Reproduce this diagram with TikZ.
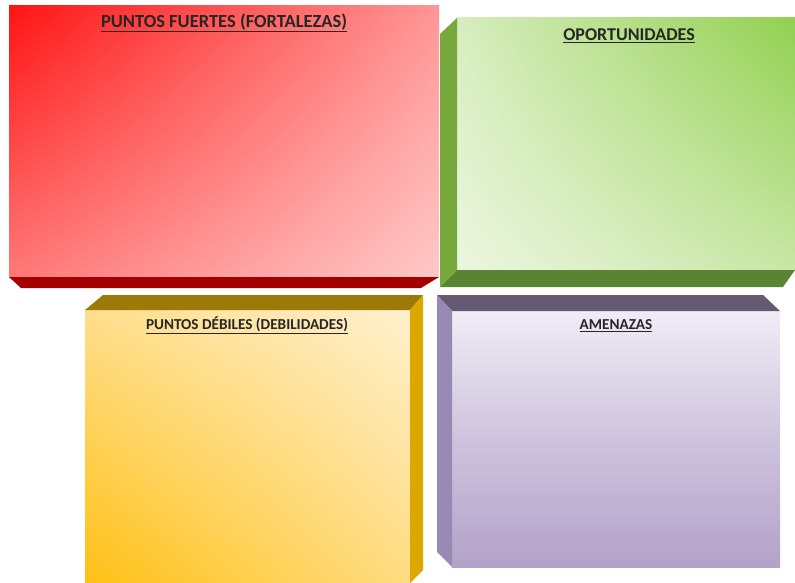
\documentclass[tikz,border=0pt]{standalone}
\usepackage{fontspec}
\setmainfont{Carlito}
\usetikzlibrary{shadings}
\begin{document}
\begin{tikzpicture}[x=1pt,y=-1pt,
  title/.style={font=\bfseries, text=black!85, inner sep=0pt, anchor=center}]
\useasboundingbox (0,0) rectangle (795,583);
\fill[white] (0,0) rectangle (795,583);
% colours
\definecolor{rA}{RGB}{255,20,20}
\definecolor{rB}{RGB}{255,150,150}
\definecolor{rC}{RGB}{255,120,120}
\definecolor{rD}{RGB}{255,200,200}
\definecolor{rBev}{RGB}{165,0,0}
\definecolor{gA}{RGB}{215,237,190}
\definecolor{gB}{RGB}{146,208,80}
\definecolor{gC}{RGB}{236,246,224}
\definecolor{gD}{RGB}{200,230,165}
\definecolor{gBevL}{RGB}{118,168,60}
\definecolor{gBevB}{RGB}{90,132,52}
\definecolor{yA}{RGB}{255,222,140}
\definecolor{yB}{RGB}{255,240,205}
\definecolor{yC}{RGB}{255,192,20}
\definecolor{yD}{RGB}{255,220,130}
\definecolor{yBevT}{RGB}{155,122,10}
\definecolor{yBevR}{RGB}{220,168,0}
\definecolor{pA}{RGB}{240,236,246}
\definecolor{pC}{RGB}{178,162,200}
\definecolor{pBevT}{RGB}{100,90,115}
\definecolor{pBevL}{RGB}{152,137,180}
% red box
\shade[upper left=rA, upper right=rB, lower left=rC, lower right=rD] (9,6) rectangle (439,277);
\fill[rBev] (9,277) -- (439,277) -- (421,288) -- (21,288) -- cycle;
\node[title, font=\bfseries\fontsize{18.5}{21}\selectfont] (t1) at (224,23) {\underline{PUNTOS FUERTES (FORTALEZAS)}};
% green box
\shade[upper left=gA, upper right=gB, lower left=gC, lower right=gD] (457,18) rectangle (795,270);
\fill[gBevL] (457,18) -- (440,34) -- (440,287) -- (457,270) -- cycle;
\fill[gBevB] (457,270) -- (795,270) -- (783,287) -- (440,287) -- cycle;
\node[title, font=\bfseries\fontsize{18}{21}\selectfont] (t2) at (629,36) {\underline{OPORTUNIDADES}};
% yellow box
\shade[upper left=yA, upper right=yB, lower left=yC, lower right=yD] (85,310) rectangle (410,583);
\fill[yBevT] (85,310) -- (103,295) -- (423,295) -- (410,310) -- cycle;
\fill[yBevR] (410,310) -- (423,295) -- (423,570) -- (410,583) -- cycle;
\node[title, font=\bfseries\fontsize{15.2}{18}\selectfont] (t3) at (247,325) {\underline{PUNTOS DÉBILES (DEBILIDADES)}};
% purple box
\shade[top color=pA, bottom color=pC, middle color=pA!45!pC] (452,311) rectangle (780,567);
\fill[pBevT] (437,295) -- (763,295) -- (780,311) -- (452,311) -- cycle;
\fill[pBevL] (437,295) -- (452,311) -- (452,567) -- (437,552) -- cycle;
\node[title, font=\bfseries\fontsize{15.2}{18}\selectfont] (t4) at (616,326) {\underline{AMENAZAS}};
\end{tikzpicture}
\end{document}
